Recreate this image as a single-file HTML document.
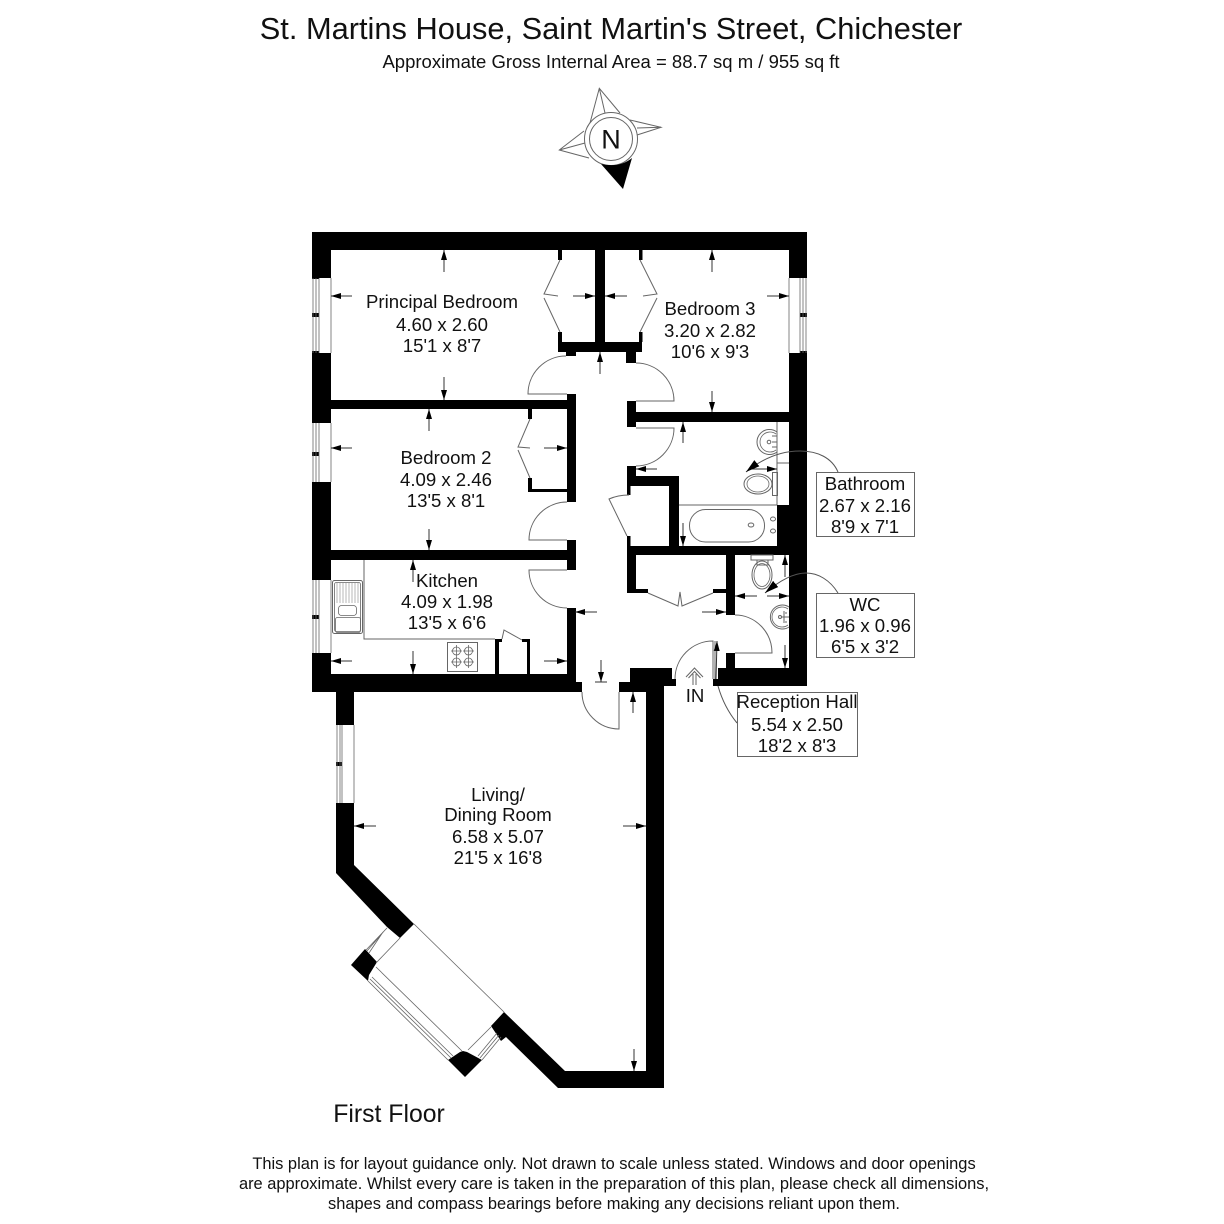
<!DOCTYPE html>
<html><head><meta charset="utf-8"><style>
html,body{margin:0;padding:0;background:#fff;width:1224px;height:1224px;overflow:hidden}
svg{display:block}
text{font-family:"Liberation Sans",sans-serif;fill:#111;text-anchor:middle;font-size:18.6px}
.g{stroke:#666;stroke-width:1;fill:none}
.w{stroke:#666;stroke-width:.8;fill:none}
.a{stroke:#333;stroke-width:1;fill:none;marker-end:url(#m)}
</style></head><body>
<svg width="1224" height="1224" viewBox="0 0 1224 1224" xmlns="http://www.w3.org/2000/svg">
<defs>
<marker id="m" markerUnits="userSpaceOnUse" markerWidth="12" markerHeight="8" refX="10" refY="4" orient="auto"><path d="M0 1 L10 4 L0 7Z" fill="#000"/></marker>
<marker id="l" markerUnits="userSpaceOnUse" markerWidth="16" markerHeight="10" refX="14" refY="5" orient="auto"><path d="M0 1 L14 5 L0 9Z" fill="#000"/></marker>
</defs>
<rect width="1224" height="1224" fill="#fff"/>

<text x="611" y="39" style="font-size:30.8px">St. Martins House, Saint Martin's Street, Chichester</text>
<text x="611" y="68" style="font-size:18.5px">Approximate Gross Internal Area = 88.7 sq m / 955 sq ft</text>

<!-- compass -->
<g class="g">
<path d="M590 123L599.300 88.300L620 113M599.300 88.300L605 113"/>
<path d="M630 120L661 127.300L637 135M661 127.300L637 128"/>
<path d="M584 131L559.300 150L589 158M559.300 150L585 143"/>
<circle cx="611" cy="139" r="26.500" fill="#fff"/><circle cx="611" cy="139" r="21.500"/>
</g>
<path d="M601 164L623 189L632 158Q620 168 601 164Z" fill="#000"/>
<text x="611" y="148.500" style="font-size:27px">N</text>

<!-- walls -->
<g fill="#000">
<rect x="312" y="232" width="495" height="18"/>
<rect x="312" y="232" width="19" height="46"/>
<rect x="312" y="353" width="19" height="70"/>
<rect x="312" y="482" width="19" height="98"/>
<rect x="312" y="653" width="19" height="39"/>
<rect x="789" y="232" width="18" height="46"/>
<rect x="789" y="353" width="18" height="333"/>
<rect x="312" y="674" width="263" height="18"/>
<rect x="567" y="682" width="15" height="10"/>
<rect x="331" y="400" width="244" height="9"/>
<rect x="331" y="550" width="244" height="10"/>
<rect x="567" y="394" width="9" height="108"/>
<rect x="567" y="540" width="9" height="30"/>
<rect x="567" y="608" width="9" height="84"/>
<rect x="528" y="409" width="4" height="10"/>
<rect x="528" y="478" width="4" height="11"/>
<rect x="528" y="489" width="39" height="3"/>
<rect x="558" y="250" width="4" height="10"/>
<rect x="558" y="332" width="4" height="10"/>
<rect x="558" y="342" width="84" height="10"/>
<rect x="595" y="250" width="10" height="92"/>
<rect x="639" y="250" width="3.500" height="10"/>
<rect x="639" y="332" width="3.500" height="10"/>
<rect x="566" y="352" width="10" height="4"/>
<rect x="626" y="352" width="10" height="11"/>
<rect x="627" y="401" width="9" height="26"/>
<rect x="627" y="412" width="162" height="10"/>
<rect x="627" y="466" width="9" height="20"/>
<rect x="627" y="485" width="3.500" height="10"/>
<rect x="636" y="476" width="43" height="10"/>
<rect x="669" y="476" width="10" height="70"/>
<rect x="627" y="536" width="3.500" height="10"/>
<rect x="627" y="546" width="180" height="9"/>
<rect x="627" y="546" width="9" height="47"/>
<rect x="627" y="589" width="21" height="4"/>
<rect x="713" y="589" width="22" height="4"/>
<rect x="726" y="555" width="9" height="60"/>
<rect x="726" y="653" width="9" height="16"/>
<rect x="718" y="668" width="89" height="12"/>
<rect x="713" y="679" width="94" height="7"/>
<rect x="777" y="505" width="12" height="41"/>
<rect x="630" y="668" width="42" height="14"/>
<rect x="660" y="679" width="16" height="7"/>
<rect x="619" y="682" width="45" height="10"/>
<rect x="646" y="686" width="18" height="402"/>
<rect x="495" y="639" width="4" height="35"/>
<rect x="495" y="639" width="7" height="3"/>
<rect x="527" y="639" width="3" height="35"/>
<rect x="522" y="639" width="8" height="3"/>
<path d="M336 692H354V725H336ZM336 803H354V865L414 924L400 938L387 927L336 873Z"/>
<path d="M365 949L377 962L369 975L368 981L351 965Z"/>
<path d="M448 1060L460 1052L463 1051L467 1052L482 1060L465 1077Z"/>
<path d="M491 1026L504 1012L565 1071H664V1088H558L506 1037L501 1041Z"/>
<!-- window mullions -->
<rect x="312" y="313" width="7" height="4"/><rect x="312" y="452" width="7" height="4"/><rect x="312" y="615" width="7" height="4"/><rect x="800" y="313" width="7" height="4"/><rect x="336" y="762" width="6" height="4"/>
<rect x="312" y="276" width="7" height="3"/><rect x="312" y="351" width="7" height="3"/><rect x="800" y="351" width="7" height="3"/>
</g>

<!-- windows -->
<g class="w">
<path d="M313 278V353M316 278V353M319 278V353M331 278V353"/>
<path d="M313 423V482M316 423V482M319 423V482M331 423V482"/>
<path d="M313 580V653M316 580V653M319 580V653M331 580V653"/>
<path d="M789 278V353M800 278V353M803 278V353M806 278V353"/>
<path d="M337 725V803M340 725V803M342 725V803M354 725V803"/>
<path d="M414 924L504 1012"/>
<path d="M400 938L376 963M387 928L366 950M385 930L367 951M383 932L369 953"/>
<path d="M368 981L448 1060M370 979L451 1058M372 977L453 1056M376 967L462 1051"/>
<path d="M468 1050L491 1027M482 1060L501 1037M480 1058L499 1035M478 1056L497 1033"/>
</g>

<!-- doors -->
<g class="g">
<path d="M566 356A38 38 0 0 0 528 394H567"/>
<path d="M636 363A38 38 0 0 1 674 401H636"/>
<path d="M636 428H674A38 38 0 0 1 636 466"/>
<path d="M567 502A38 38 0 0 0 529 540H567"/>
<path d="M567 570H529A38 38 0 0 0 567 608"/>
<path d="M735 615A37 38 0 0 1 772 653H735"/>
<path d="M675 679A38 38 0 0 1 713 641V679M715 641V679"/>
<path d="M582 692A37 37 0 0 0 619 729V692"/>
<path d="M560 260L544 294L558 296M544 298L560 332"/>
<path d="M640 260L657 294L643 296M657 298L640 332"/>
<path d="M530 419L518 447L530 448M518 450L530 478"/>
<path d="M629 495Q618 495 609 499L627 536"/>
<path d="M648 593L678 606L680 592L682 606L713 593"/>
<path d="M502 639L504 630L522 640"/>
</g>

<!-- kitchen -->
<g class="g">
<path d="M364 560V639H495"/>
<rect x="332.500" y="580.500" width="30" height="53" rx="2"/>
<rect x="334.500" y="582.500" width="26" height="49" rx="2" class="w"/>
<rect x="338.500" y="605.500" width="18" height="10" rx="3" class="w"/>
<rect x="335.500" y="617.500" width="25" height="15" rx="2" class="w"/>
<path d="M337 583V603M340 583V603M343 583V603M346 583V603M349 583V603M352 583V603M355 583V603M358 583V603" stroke="#999" stroke-width=".7"/>
<rect x="447.500" y="642.500" width="30" height="29"/>
<g class="w" stroke="#444">
<circle cx="456.500" cy="651" r="4"/><circle cx="468.500" cy="651" r="4"/><circle cx="456.500" cy="662" r="4"/><circle cx="468.500" cy="662" r="4"/>
<path d="M451 651H462M456.500 645V657M463 651H474M468.500 645V657M451 662H462M456.500 656V668M463 662H474M468.500 656V668"/>
</g>
</g>

<!-- bathroom -->
<g class="g">
<path d="M777 422V505M777 463H789M679 505H777"/>
<rect x="689.500" y="509.500" width="75" height="32.500" rx="16"/>
<ellipse cx="751" cy="525" rx="2.800" ry="2"/><ellipse cx="773" cy="519" rx="2.500" ry="2"/><ellipse cx="773" cy="531" rx="2.500" ry="2"/>
<path d="M777 432A12.500 12.500 0 1 0 777 452"/><path d="M776 434A10 10 0 1 0 776 450" class="w"/>
<circle cx="769" cy="442" r="1.800"/><path d="M772 436h5M772 442h5M772 447h5"/>
<rect x="772.500" y="472.500" width="5" height="23"/>
<ellipse cx="758" cy="484" rx="14" ry="10"/><ellipse cx="758" cy="484" rx="11" ry="8" class="w"/>
<rect x="751" y="555" width="22" height="5"/><rect x="757" y="560" width="11" height="5"/>
<ellipse cx="762" cy="575" rx="10" ry="14"/><ellipse cx="762" cy="575" rx="8" ry="11.500" class="w"/>
<path d="M789 607A12 12 0 1 0 789 627"/><path d="M788 609A10 10 0 1 0 788 625" class="w"/>
<circle cx="780" cy="617" r="1.500"/><path d="M784 611V623M781 617H789M786 612v2M786 621v2"/>
<path d="M686 677L694.500 668L703 677M688.500 678L694.500 671.500L700.500 678M693 674V685M696 674V685"/>
</g>

<!-- dimension arrows -->
<g class="a">
<line x1="444" y1="272" x2="444" y2="250"/><line x1="444" y1="377" x2="444" y2="400"/>
<line x1="352" y1="296" x2="331" y2="296"/><line x1="573" y1="296" x2="595" y2="296"/>
<line x1="712" y1="272" x2="712" y2="250"/><line x1="712" y1="391" x2="712" y2="412"/>
<line x1="627" y1="296" x2="605" y2="296"/><line x1="767" y1="296" x2="789" y2="296"/>
<line x1="429" y1="431" x2="429" y2="409"/><line x1="429" y1="529" x2="429" y2="550"/>
<line x1="352" y1="448" x2="331" y2="448"/><line x1="544" y1="448" x2="567" y2="448"/>
<line x1="413" y1="582" x2="413" y2="560"/><line x1="413" y1="651" x2="413" y2="674"/>
<line x1="352" y1="661" x2="331" y2="661"/><line x1="544" y1="661" x2="567" y2="661"/>
<line x1="600" y1="374" x2="600" y2="352"/><line x1="601" y1="660" x2="601" y2="682"/>
<line x1="597" y1="612" x2="575" y2="612"/><line x1="702" y1="612" x2="726" y2="612"/>
<line x1="683" y1="443" x2="683" y2="422"/><line x1="683" y1="523" x2="683" y2="546"/>
<line x1="657" y1="469" x2="636" y2="469"/><line x1="752" y1="469" x2="777" y2="469"/>
<line x1="785" y1="577" x2="785" y2="555"/><line x1="785" y1="645" x2="785" y2="668"/>
<line x1="757" y1="596" x2="735" y2="596"/><line x1="767" y1="596" x2="789" y2="596"/>
<line x1="376" y1="826" x2="354" y2="826"/><line x1="623" y1="826" x2="646" y2="826"/>
<line x1="633" y1="713" x2="633" y2="692"/><line x1="634" y1="1049" x2="634" y2="1071"/>
<line x1="716" y1="679" x2="717" y2="641"/>
</g>
<path d="M595 682H607" stroke="#333" fill="none"/>

<!-- leaders -->
<g fill="none" stroke="#555">
<path d="M838 472C832 458 818 451 800 451C780 451 762 459 746 472" marker-end="url(#l)"/>
<path d="M838 593C830 580 818 573 806 573C792 573 778 582 765 593" marker-end="url(#l)"/>
<path d="M718 686C722 700 728 712 737 723"/>
</g>

<!-- boxes -->
<g fill="#fff" stroke="#666">
<rect x="816.500" y="472.500" width="98" height="64"/>
<rect x="816.500" y="593.500" width="98" height="64"/>
<rect x="737.500" y="692.500" width="120" height="64"/>
</g>

<!-- labels -->
<text x="442" y="308">Principal Bedroom</text><text x="442" y="331">4.60 x 2.60</text><text x="442" y="352">15'1 x 8'7</text>
<text x="710" y="315">Bedroom 3</text><text x="710" y="337">3.20 x 2.82</text><text x="710" y="358">10'6 x 9'3</text>
<text x="446" y="464">Bedroom 2</text><text x="446" y="486">4.09 x 2.46</text><text x="446" y="507">13'5 x 8'1</text>
<text x="447" y="587">Kitchen</text><text x="447" y="608">4.09 x 1.98</text><text x="447" y="629">13'5 x 6'6</text>
<text x="498" y="801">Living/</text><text x="498" y="821">Dining Room</text><text x="498" y="843">6.58 x 5.07</text><text x="498" y="864">21'5 x 16'8</text>
<text x="865" y="490">Bathroom</text><text x="865" y="512">2.67 x 2.16</text><text x="865" y="533">8'9 x 7'1</text>
<text x="865" y="611">WC</text><text x="865" y="632">1.96 x 0.96</text><text x="865" y="653">6'5 x 3'2</text>
<text x="797" y="708">Reception Hall</text><text x="797" y="731">5.54 x 2.50</text><text x="797" y="752">18'2 x 8'3</text>
<text x="695" y="702">IN</text>
<text x="389" y="1122" style="font-size:24.800px">First Floor</text>
<text x="614" y="1169" style="font-size:16.450px">This plan is for layout guidance only. Not drawn to scale unless stated. Windows and door openings</text>
<text x="614" y="1189" style="font-size:16.450px">are approximate. Whilst every care is taken in the preparation of this plan, please check all dimensions,</text>
<text x="614" y="1209" style="font-size:16.450px">shapes and compass bearings before making any decisions reliant upon them.</text>
</svg>
</body></html>
